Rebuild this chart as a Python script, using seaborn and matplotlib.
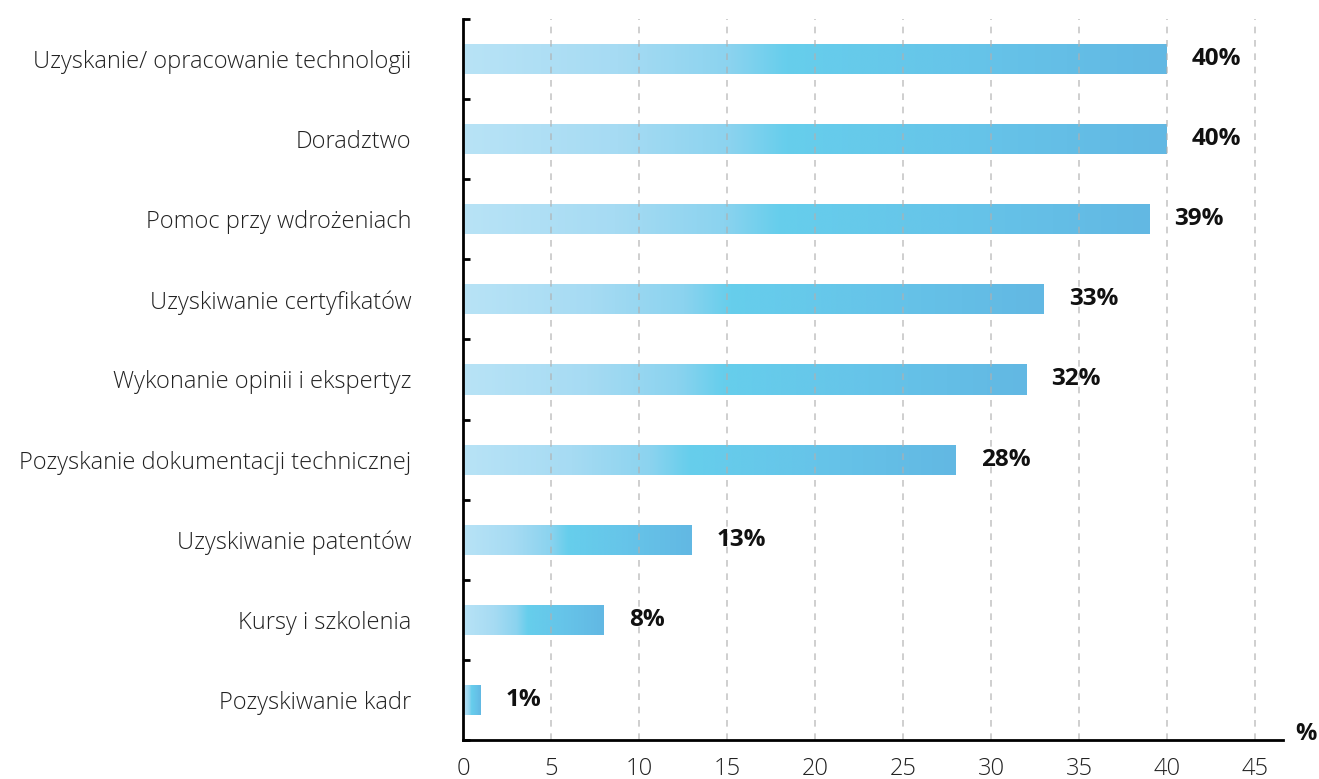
import numpy as np
import pandas as pd
import matplotlib
matplotlib.use("Agg")
import matplotlib.pyplot as plt
from matplotlib.colors import LinearSegmentedColormap
from matplotlib.ticker import FixedLocator
import seaborn as sns

# Data
categories = [
    "Uzyskanie/ opracowanie technologii",
    "Doradztwo",
    "Pomoc przy wdrożeniach",
    "Uzyskiwanie certyfikatów",
    "Wykonanie opinii i ekspertyz",
    "Pozyskanie dokumentacji technicznej",
    "Uzyskiwanie patentów",
    "Kursy i szkolenia",
    "Pozyskiwanie kadr",
]
values = [40, 40, 39, 33, 32, 28, 13, 8, 1]
xticks = [0, 5, 10, 15, 20, 25, 30, 35, 40, 45]

sns.set_theme(style="white")
plt.rcParams["font.family"] = ["Open Sans", "DejaVu Sans"]

W, H = 1319, 779
fig = plt.figure(figsize=(W / 100, H / 100), dpi=100)
left, right, top, bottom = 463, 1283, 19, 740
ax = fig.add_axes([left / W, (H - bottom) / H, (right - left) / W, (bottom - top) / H])

df = pd.DataFrame({"cat": categories, "val": values})
sns.barplot(data=df, y="cat", x="val", orient="h", ax=ax, width=0.375,
            color="#66ceec", errorbar=None, zorder=2)

# Horizontal gradient inside each bar
cmap = LinearSegmentedColormap.from_list(
    "bar_grad",
    [(0.0, "#b8e3f6"), (0.22, "#a6dbf3"), (0.38, "#8bd3ef"),
     (0.46, "#66ceec"), (0.72, "#66c4e9"), (1.0, "#62b8e3")],
)
grad = np.linspace(0, 1, 256).reshape(1, -1)
for p in ax.patches:
    x0, y0, w, h = p.get_x(), p.get_y(), p.get_width(), p.get_height()
    p.set_facecolor("none")
    p.set_edgecolor("none")
    im = ax.imshow(grad, extent=[x0, x0 + w, y0 + h, y0], aspect="auto",
                   cmap=cmap, interpolation="bicubic", zorder=2)
    im.set_clip_path(p)

xmax = (right - left) / ((1255 - 463) / 45)
ax.set_xlim(0, xmax)
ax.set_ylim(len(categories) - 0.5, -0.5)

# Value labels
for i, v in enumerate(values):
    ax.annotate(f"{v}%", xy=(v, i), xytext=(18, 0), textcoords="offset points",
                va="center", ha="left", fontsize=17.5, fontweight="bold",
                color="#111111")

# Grid on top of bars
ax.set_axisbelow(False)
ax.xaxis.grid(True, linestyle=(0, (4, 4)), color="#b0b0b0", linewidth=1.2, alpha=0.7)
ax.yaxis.grid(False)

ax.set_xticks(xticks)
ax.set_xticklabels([str(t) for t in xticks], fontsize=17, fontweight="light",
                   color="#222222")
ax.tick_params(axis="x", direction="inout", length=8, width=1.5, color="black", pad=8)

ax.tick_params(axis="y", which="major", length=0, pad=37, labelsize=17,
               labelcolor="#222222")
for lbl in ax.get_yticklabels():
    lbl.set_fontweight("light")
ax.yaxis.set_minor_locator(FixedLocator(np.arange(-0.5, len(categories), 1.0)))
ax.tick_params(axis="y", which="minor", direction="in", length=5, width=2,
               color="black", left=True)

ax.set_xlabel("")
ax.set_ylabel("")
for s in ["top", "right"]:
    ax.spines[s].set_visible(False)
for s in ["left", "bottom"]:
    ax.spines[s].set_color("black")
    ax.spines[s].set_linewidth(2)
    ax.spines[s].set_zorder(3)

fig.text(1295 / W, (H - 734) / H, "%", fontsize=17, fontweight="bold",
         ha="left", va="center", color="#111111")

fig.savefig("out.png", dpi=100, facecolor="white")
